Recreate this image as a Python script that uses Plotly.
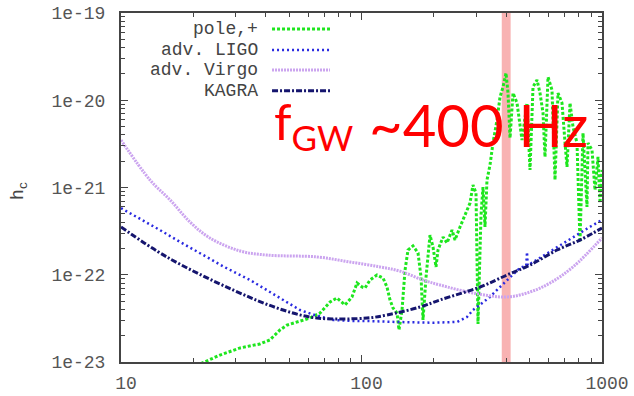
import plotly.graph_objects as go

# --- characteristic strain of the pole,+ signal ---
pole_f = [21.5, 25.8, 31.3, 37.8, 41.6, 45.8, 49.0, 55.5, 61.1, 67.2, 74.0, 79.1,
          83.0, 85.4, 91.3, 95.8, 100.5, 103.4, 108.5, 116.0, 122.9, 127.6, 131.4,
          135.2, 140.5, 143.2, 147.4, 151.7, 156.1, 163.7, 171.8, 176.8, 180.2,
          185.5, 192.7, 198.3, 204.1, 208.0, 218.3, 226.8, 237.9, 244.8, 256.8,
          264.2, 274.6, 282.6, 290.8, 299.3, 305.1, 314.0, 320.0, 326.2, 332.5,
          342.2, 352.2, 366.0, 376.7, 387.7, 398.9, 406.6, 414.6, 426.6, 443.3,
          465.0, 487.7, 501.9, 516.6, 536.7, 552.4, 568.5, 579.4, 596.4, 619.6,
          637.7, 656.2, 681.9, 701.9, 715.4, 736.2, 757.7, 787.1, 810.1, 833.7,
          866.1, 874.5, 908.7, 935.2, 962.5, 981.1, 1000.0]
pole_h = [9.6e-24, 1.20e-23, 1.45e-23, 1.61e-23, 1.79e-23, 2.33e-23, 2.65e-23,
          2.95e-23, 3.19e-23, 3.64e-23, 4.87e-23, 5.41e-23, 4.74e-23, 4.50e-23,
          5.56e-23, 8.04e-23, 7.24e-23, 7.05e-23, 8.71e-23, 9.93e-23, 9.18e-23,
          7.24e-23, 5.14e-23, 4.16e-23, 3.64e-23, 2.33e-23, 3.94e-23, 1.13e-22,
          1.92e-22, 2.14e-22, 1.78e-22, 9.42e-23, 3.03e-23, 9.42e-23, 2.85e-22,
          2.08e-22, 1.23e-22, 1.92e-22, 2.71e-22, 2.31e-22, 3.26e-22, 2.50e-22,
          3.53e-22, 4.24e-22, 5.52e-22, 6.64e-22, 1.07e-21, 8.65e-22, 2.73e-23,
          4.84e-22, 1.01e-21, 3.53e-22, 1.22e-21, 1.81e-21, 3.24e-21, 5.94e-21,
          1.09e-20, 1.42e-20, 2.05e-20, 1.21e-20, 3.69e-21, 1.21e-20, 9.30e-21,
          3.50e-21, 9.30e-21, 1.59e-21, 1.42e-20, 1.71e-20, 1.21e-20, 7.14e-21,
          2.24e-21, 1.85e-20, 1.31e-20, 1.22e-21, 1.21e-20, 9.30e-21, 3.24e-21,
          1.72e-21, 9.30e-21, 4.94e-21, 3.24e-21, 2.37e-22, 4.21e-21, 5.98e-22,
          3.24e-21, 2.69e-21, 9.36e-22, 2.24e-21, 6.64e-22, 1.59e-21]

# --- detector sensitivity curves ---
ligo_f = [10, 12, 14.5, 17.5, 21.3, 27, 34.4, 45, 55.5, 65, 76.1, 90, 105.4,
          144.5, 200, 250, 274.6, 290.8, 315, 342.2, 370, 402.7, 430, 456, 484,
          487.7, 491, 520, 552.4, 600, 650.6, 730, 810.1, 900, 1000]
ligo_h = [5.8e-22, 4.4e-22, 3.26e-22, 2.4e-22, 1.78e-22, 1.22e-22, 8.7e-23,
          5.56e-23, 3.94e-23, 3.4e-23, 3.03e-23, 2.96e-23, 2.95e-23, 2.87e-23,
          2.82e-23, 2.88e-23, 3.28e-23, 3.94e-23, 4.7e-23, 5.56e-23, 6.9e-23,
          8.71e-23, 1.03e-22, 1.20e-22, 1.27e-22, 1.82e-22, 1.28e-22, 1.40e-22,
          1.56e-22, 1.80e-22, 2.08e-22, 2.5e-22, 3.01e-22, 3.6e-22, 4.24e-22]

virgo_f = [10, 13.2, 16.0, 19.4, 23.4, 31.3, 40.5, 65.3, 89.6, 119.3, 144.5,
           180.2, 211.9, 290.8, 402.7, 502.0, 608.0, 757.7, 1000]
virgo_h = [3.5e-21, 1.22e-21, 7.2e-22, 4.0e-22, 2.64e-22, 1.87e-22, 1.68e-22,
           1.60e-22, 1.40e-22, 1.23e-22, 1.10e-22, 8.7e-23, 7.63e-23, 6.18e-23,
           5.56e-23, 6.34e-23, 8.04e-23, 1.23e-22, 2.64e-22]

kagra_f = [10, 15.5, 29.2, 47.2, 65.3, 105.4, 127.6, 175.1, 211.9, 311.0, 402.7,
           502.0, 650.6, 810.1, 1000]
kagra_h = [3.53e-22, 1.60e-22, 6.7e-23, 3.94e-23, 3.19e-23, 3.19e-23, 3.46e-23,
           4.27e-23, 5.14e-23, 7.24e-23, 9.93e-23, 1.29e-22, 1.92e-22, 2.50e-22,
           3.43e-22]

# frequency band around f_GW ~ 400 Hz
band_lo, band_hi = 383, 417

x_ticks = [10, 100, 1000]
x_tick_text = ["10", "100", "1000"]
y_ticks = [1e-23, 1e-22, 1e-21, 1e-20, 1e-19]
y_tick_text = ["1e-23", "1e-22", "1e-21", "1e-20", "1e-19"]
x_minor = [m * 10 ** e for e in (1, 2) for m in range(2, 10)]
y_minor = [m * 10.0 ** e for e in range(-23, -19) for m in range(2, 10)]

series = [
    ("pole,+", pole_f, pole_h, "#1ee61e", 3, "3px,2px", "linear"),
    ("adv. LIGO", ligo_f, ligo_h, "#2a2ae0", 2.5, "2px,3px", "linear"),
    ("adv. Virgo", virgo_f, virgo_h, "#cba4ef", 3, "2px,1px", "spline"),
    ("KAGRA", kagra_f, kagra_h, "#15156e", 3, "6px,2px,2px,2px", "spline"),
]

mono = "Liberation Mono, Courier New, monospace"
grey = "#555555"

fig = go.Figure()
for name, fx, hy, col, w, dash, shape in series:
    fig.add_trace(go.Scatter(x=fx, y=hy, mode="lines", name=name,
                             line=dict(color=col, width=w, dash=dash, shape=shape),
                             showlegend=False))

fig.add_shape(type="rect", xref="x", yref="paper", x0=band_lo, x1=band_hi,
              y0=0, y1=1, fillcolor="#f8b2b2", line_width=0, layer="below")

# key in the upper-left corner: label on the left, line sample on the right
rows_y = [0.954, 0.894, 0.837, 0.777]
for (name, fx, hy, col, w, dash, shape), ry in zip(series, rows_y):
    fig.add_annotation(text=name, xref="paper", yref="paper", x=0.289, y=ry,
                       xanchor="right", yanchor="middle", showarrow=False,
                       font=dict(family=mono, size=18, color="#444"))
    fig.add_shape(type="line", xref="paper", yref="paper", x0=0.314, x1=0.4345,
                  y0=ry, y1=ry, line=dict(color=col, width=w, dash=dash))

fig.add_annotation(text="h<sub>c</sub>", xref="paper", yref="paper", x=-0.21,
                   y=0.49, xanchor="center", yanchor="middle", textangle=-90,
                   showarrow=False, font=dict(family=mono, size=18, color="#444"))

fig.add_annotation(text="f<sub>GW</sub>", xref="paper", yref="paper", x=0.314,
                   y=0.68, xanchor="left", yanchor="middle", showarrow=False,
                   font=dict(family="Lato, sans-serif", size=50, color="#ff0000"))
fig.add_annotation(text="~400 Hz", xref="paper", yref="paper", x=0.512,
                   y=0.68, xanchor="left", yanchor="middle", showarrow=False,
                   font=dict(family="Lato, sans-serif", size=58, color="#ff0000"))

axis_common = dict(type="log", showgrid=False, zeroline=False, showline=True,
                   linecolor="#444", linewidth=2, mirror="allticks",
                   ticks="inside", ticklen=7, tickcolor="#444", tickwidth=1,
                   automargin=False,
                   tickfont=dict(family=mono, size=18, color=grey))

fig.update_xaxes(range=[1, 3], tickmode="array", tickvals=x_ticks,
                 ticktext=x_tick_text, ticklabelstandoff=3, ticklabelshift=5,
                 minor=dict(tickmode="array", tickvals=x_minor, ticks="inside",
                            ticklen=4, tickcolor="#444", showgrid=False),
                 **axis_common)
fig.update_yaxes(range=[-23, -19], tickmode="array", tickvals=y_ticks,
                 ticktext=y_tick_text, ticklabelstandoff=10,
                 minor=dict(tickmode="array", tickvals=y_minor, ticks="inside",
                            ticklen=4, tickcolor="#444", showgrid=False),
                 **axis_common)

fig.update_layout(width=634, height=396,
                  margin=dict(l=121, r=32, t=13, b=34, autoexpand=False),
                  paper_bgcolor="white", plot_bgcolor="white", showlegend=False)

fig.write_html("out.html")
